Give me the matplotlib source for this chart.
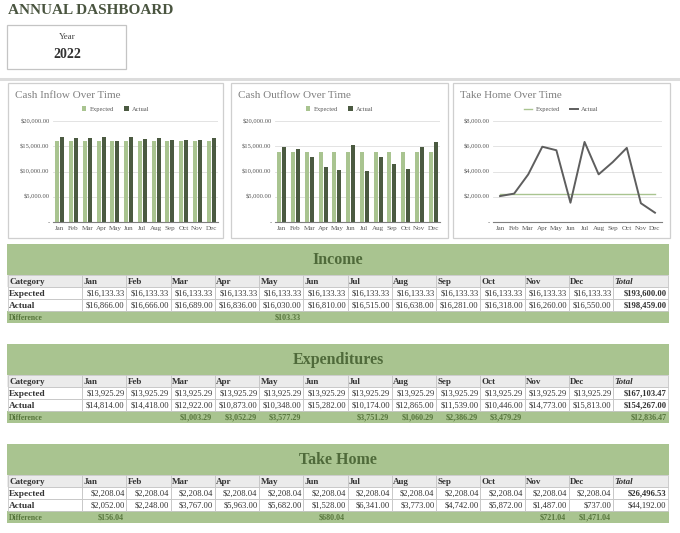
import numpy as np
import matplotlib
matplotlib.use("Agg")
import matplotlib.pyplot as plt
from matplotlib.patches import Rectangle
from matplotlib.lines import Line2D

plt.rcParams['font.family'] = ['Liberation Serif', 'DejaVu Serif']

# ---- data ----
months = ["Jan", "Feb", "Mar", "Apr", "May", "Jun", "Jul", "Aug", "Sep", "Oct", "Nov", "Dec"]
year = "2022"

income_expected = [16133.33, 16133.33, 16133.33, 16133.33, 16133.33, 16133.33,
                   16133.33, 16133.33, 16133.33, 16133.33, 16133.33, 16133.33]
income_actual = [16866.00, 16666.00, 16689.00, 16836.00, 16030.00, 16810.00,
                 16515.00, 16638.00, 16281.00, 16318.00, 16260.00, 16550.00]
income_totals = [193600.00, 198459.00]

expense_expected = [13925.29, 13925.29, 13925.29, 13925.29, 13925.29, 13925.29,
                    13925.29, 13925.29, 13925.29, 13925.29, 13925.29, 13925.29]
expense_actual = [14814.00, 14418.00, 12922.00, 10873.00, 10348.00, 15282.00,
                  10174.00, 12865.00, 11539.00, 10446.00, 14773.00, 15813.00]
expense_totals = [167103.47, 154267.00]

takehome_expected = [2208.04, 2208.04, 2208.04, 2208.04, 2208.04, 2208.04,
                     2208.04, 2208.04, 2208.04, 2208.04, 2208.04, 2208.04]
takehome_actual = [2052.00, 2248.00, 3767.00, 5963.00, 5682.00, 1528.00,
                   6341.00, 3773.00, 4742.00, 5872.00, 1487.00, 737.00]
takehome_totals = [26496.53, 44192.00]

# colours
green = "#a9c490"
dark = "#4b5a41"
title_green = "#4f6a3a"
diff_green = "#56753b"
grey_txt = "#595959"
cell_txt = "#333333"
border = "#c8c8c8"

W, H = 680, 533
fig = plt.figure(figsize=(W / 100, H / 100), dpi=100)


def fx(x):
    return x / W


def fy(y):
    return 1 - y / H


def box(x0, y0, x1, y1, face="none", edge="none", lw=0.7, z=1):
    fig.patches.append(Rectangle((fx(x0), fy(y1)), (x1 - x0) / W, (y1 - y0) / H,
                                 transform=fig.transFigure, facecolor=face,
                                 edgecolor=edge, linewidth=lw, zorder=z))


def txt(x, y, s, **kw):
    kw.setdefault("va", "center")
    fig.text(fx(x), fy(y), s, **kw)


def money(v):
    return f"${v:,.2f}"


# ---- header ----
txt(8, 11, "ANNUAL DASHBOARD", fontsize=11, fontweight="bold", color="#4a5540")
box(7, 25, 126, 69, edge="#c4c4c4", lw=0.9)
txt(67, 37, "Year", fontsize=6.5, ha="center", color="#444444")
txt(67, 54, year, fontsize=10, fontweight="bold", ha="center", color="#333333")
fig.add_artist(Line2D([0, 1], [fy(79), fy(79)], transform=fig.transFigure,
                      color="#dcdcdc", lw=2.2))


# ---- charts ----
def setup_axes(px0, px1, ymax, step):
    ax = fig.add_axes([fx(px0), fy(222), (px1 - px0) / W, 101 / H])
    ax.set_xlim(-0.5, 11.5)
    ax.set_ylim(0, ymax)
    ax.set_yticks(np.arange(0, ymax + 1, step))
    ax.set_yticklabels(["-" if v == 0 else money(v) for v in np.arange(0, ymax + 1, step)])
    ax.set_xticks(np.arange(12))
    ax.set_xticklabels(months)
    ax.tick_params(length=0, labelsize=4.7, colors=grey_txt, pad=2.5)
    ax.tick_params(axis="x", labelsize=5.1, pad=3)
    ax.yaxis.grid(True, color="#dedede", lw=0.6)
    ax.set_axisbelow(True)
    for s in ["top", "right", "left"]:
        ax.spines[s].set_visible(False)
    ax.spines["bottom"].set_color("#7f7f7f")
    ax.spines["bottom"].set_linewidth(0.8)
    return ax


panels = [(8, 223, "Cash Inflow Over Time"),
          (231, 448, "Cash Outflow Over Time"),
          (453, 670, "Take Home Over Time")]
for p0, p1, title in panels:
    box(p0, 83, p1, 238, edge="#cfcfcf", lw=0.9)
    txt(p0 + 7, 96, title, fontsize=8, color="#808080")

x = np.arange(12)
bw = 0.28
for (p0, p1, _), (a0, a1), exp, act in [
        (panels[0], (53, 218), income_expected, income_actual),
        (panels[1], (275, 440), expense_expected, expense_actual)]:
    ax = setup_axes(a0, a1, 20000, 5000)
    b1 = ax.bar(x - 0.18, exp, width=bw, color=green)
    b2 = ax.bar(x + 0.18, act, width=bw, color=dark)
    fig.legend([b1, b2], ["Expected", "Actual"], loc="center",
               bbox_to_anchor=(fx((p0 + p1) / 2), fy(109)), ncol=2, frameon=False,
               fontsize=4.7, handlelength=0.7, handleheight=0.7, handletextpad=0.5,
               columnspacing=1.6, labelcolor=grey_txt)

ax3 = setup_axes(493, 662, 8000, 2000)
l1, = ax3.plot(x, takehome_expected, color=green, lw=1.0)
l2, = ax3.plot(x, takehome_actual, color="#5e5e5e", lw=1.4)
fig.legend([l1, l2], ["Expected", "Actual"], loc="center",
           bbox_to_anchor=(fx((panels[2][0] + panels[2][1]) / 2), fy(109)), ncol=2,
           frameon=False, fontsize=4.7, handlelength=1.2, handletextpad=0.5,
           columnspacing=1.6, labelcolor=grey_txt)


# ---- tables ----
col_x0 = 82
col_w = (613 - 82) / 12
tot_x1 = 668


def draw_table(top, title, exp, act, totals, total_bold):
    box(7, top, 669, top + 31, face=green, z=0.5)
    txt(338, top + 16, title, fontsize=11.5, fontweight="bold", ha="center", color=title_green)
    edges = [8, col_x0] + [col_x0 + col_w * (i + 1) for i in range(12)] + [tot_x1]
    for r, y0 in enumerate([top + 31, top + 43, top + 55]):
        face = "#ebebeb" if r == 0 else "white"
        box(7, y0, 669, y0 + 12, face=face, z=0.5)
        for c in range(len(edges) - 1):
            box(edges[c], y0, edges[c + 1], y0 + 12, edge=border, lw=0.6)
    box(7, top + 67, 669, top + 79, face=green, z=0.5)

    # header row
    yh = top + 37.5
    txt(9, yh, "Category", fontsize=6.5, fontweight="bold", color=cell_txt)
    for i, m in enumerate(months):
        txt(edges[i + 1] + 1.5, yh, m, fontsize=6.5, fontweight="bold", color=cell_txt)
    txt(edges[13] + 1.5, yh, "Total", fontsize=6.5, fontweight="bold", style="italic",
        color=cell_txt)

    # expected / actual rows
    for r, (label, vals) in enumerate([("Expected", exp), ("Actual", act)]):
        yr = top + 49.5 + 12 * r
        txt(9, yr, label, fontsize=6.7, fontweight="bold", color=cell_txt)
        for i, v in enumerate(vals):
            txt(edges[i + 2] - 1.5, yr, money(v), fontsize=6.1, ha="right", color=cell_txt)
        txt(tot_x1 - 1.5, yr, money(totals[r]), fontsize=6.2, ha="right",
            fontweight="bold" if total_bold[r] else "normal", color=cell_txt)

    # difference row (shown where actual falls short of expected)
    yd = top + 73.5
    txt(9, yd, "Difference", fontsize=5.5, fontweight="bold", color=diff_green)
    for i in range(12):
        d = exp[i] - act[i]
        if d > 0:
            txt(edges[i + 2] - 2.5, yd, money(d), fontsize=5.8, fontweight="bold",
                ha="right", color=diff_green)
    d = totals[0] - totals[1]
    if d > 0:
        txt(tot_x1 - 1.5, yd, money(d), fontsize=5.8, fontweight="bold", ha="right",
            color=diff_green)


draw_table(244, "Income", income_expected, income_actual, income_totals, [True, True])
draw_table(344, "Expenditures", expense_expected, expense_actual, expense_totals, [True, True])
draw_table(444, "Take Home", takehome_expected, takehome_actual, takehome_totals, [True, False])

fig.savefig("out.png", dpi=100, facecolor="white")
